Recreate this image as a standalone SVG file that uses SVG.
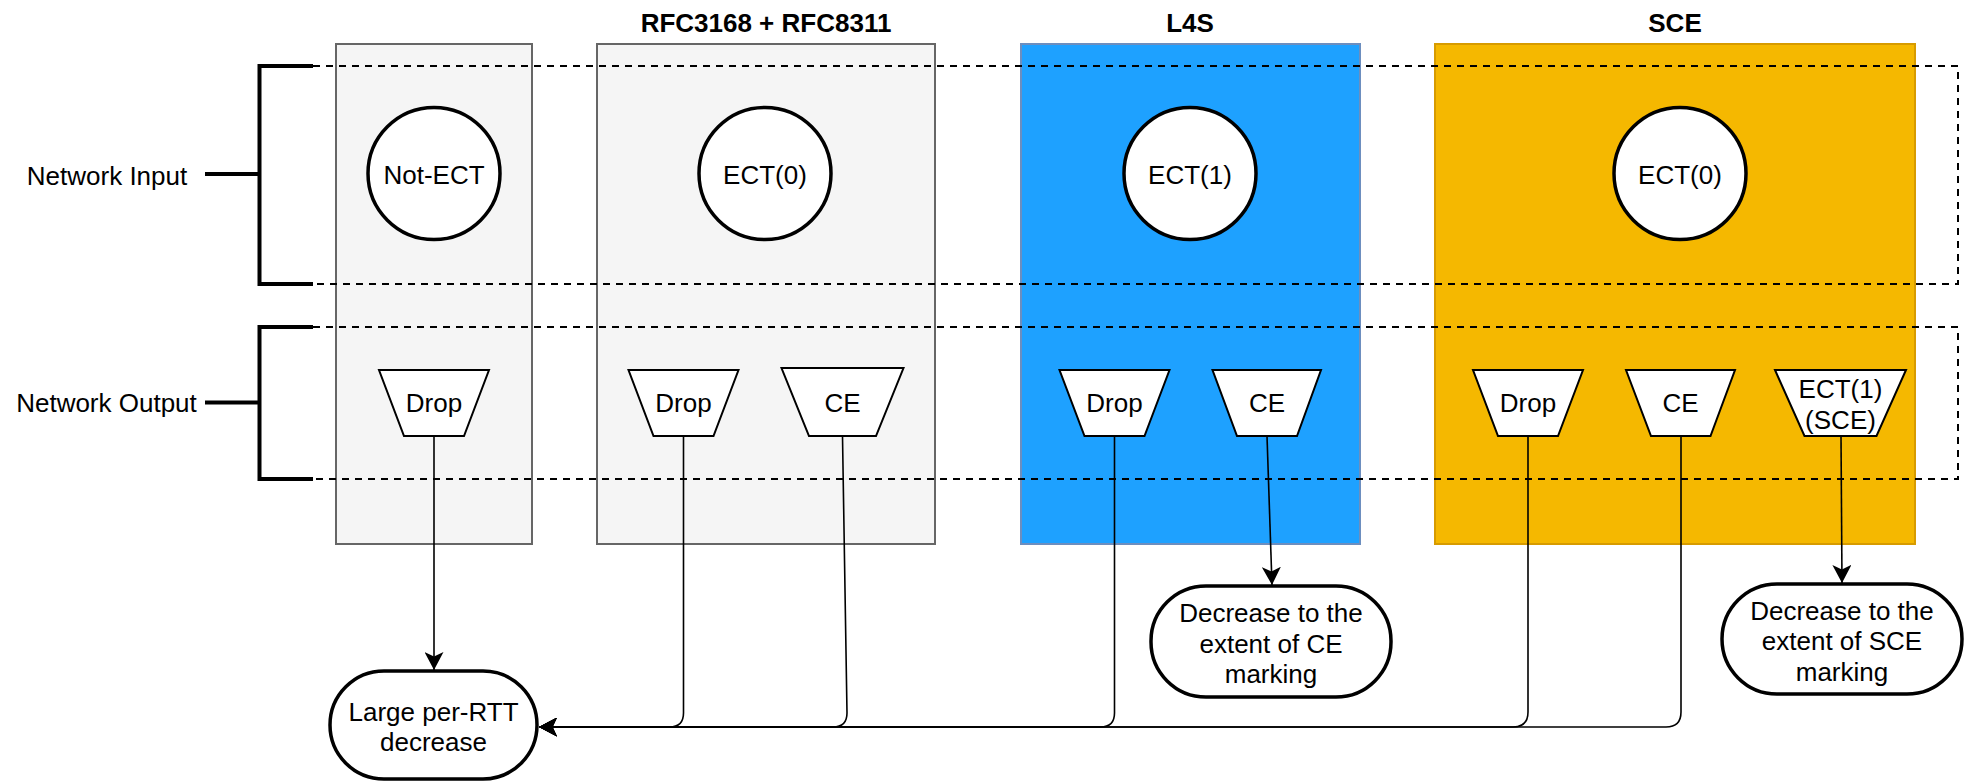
<svg xmlns="http://www.w3.org/2000/svg" width="1973" height="782" viewBox="0 0 1973 782">
<defs>
<style>
text{font-family:"Liberation Sans",Arial,Helvetica,sans-serif;font-size:26px;fill:#000;text-anchor:middle}
.title{font-weight:bold}
.col-gray{fill:#f5f5f5;stroke:#666666;stroke-width:2}
.col-blue{fill:#1ea1ff;stroke:#6c8ebf;stroke-width:2}
.col-orange{fill:#f5b800;stroke:#d79b00;stroke-width:2}
.circ{fill:#fff;stroke:#000;stroke-width:3.5}
.trap{fill:#fff;stroke:#000;stroke-width:2}
.term{fill:#fff;stroke:#000;stroke-width:3.5}
.dash{fill:none;stroke:#000;stroke-width:2;stroke-dasharray:7 6}
.brk{fill:none;stroke:#000;stroke-width:4}
.conn{fill:none;stroke:#000;stroke-width:1.6;marker-end:url(#arr)}
</style>
<marker id="arr" viewBox="0 0 18 19" refX="18" refY="9.5" markerWidth="18" markerHeight="19" markerUnits="userSpaceOnUse" orient="auto">
<path d="M0,0 L18,9.5 L0,19 L4.5,9.5 Z" fill="#000"/>
</marker>
</defs>

<g id="columns">
<rect id="col-notect" class="col-gray" x="336" y="44" width="196" height="500"/>
<rect id="col-rfc" class="col-gray" x="597" y="44" width="338" height="500"/>
<rect id="col-l4s" class="col-blue" x="1021" y="44" width="339" height="500"/>
<rect id="col-sce" class="col-orange" x="1435" y="44" width="480" height="500"/>
</g>

<g id="titles">
<text class="title" x="766" y="32">RFC3168 + RFC8311</text>
<text class="title" x="1190" y="32">L4S</text>
<text class="title" x="1675" y="32">SCE</text>
</g>

<g id="groups">
<path class="dash" d="M313,66 H1958 V284 H313"/>
<path class="dash" d="M313,327 H1958 V479 H313"/>
<path class="brk" d="M313,66 H259.5 V284 H313 M205,174 H259.5"/>
<path class="brk" d="M313,327 H259.5 V479 H313 M205,402.5 H259.5"/>
<text x="107" y="185">Network Input</text>
<text x="106.5" y="412">Network Output</text>
</g>

<g id="inputs">
<g id="in-notect"><circle class="circ" cx="434" cy="173.5" r="66"/><text x="434" y="184">Not-ECT</text></g>
<g id="in-rfc"><circle class="circ" cx="765" cy="173.5" r="66"/><text x="765" y="184">ECT(0)</text></g>
<g id="in-l4s"><circle class="circ" cx="1190" cy="173.5" r="66"/><text x="1190" y="184">ECT(1)</text></g>
<g id="in-sce"><circle class="circ" cx="1680" cy="173.5" r="66"/><text x="1680" y="184">ECT(0)</text></g>
</g>

<g id="outputs">
<g id="out-notect-drop"><path class="trap" d="M379,370 H489 L464,436 H404 Z"/><text x="434" y="412">Drop</text></g>
<g id="out-rfc-drop"><path class="trap" d="M628.5,370 H738.5 L713.5,436 H653.5 Z"/><text x="683.5" y="412">Drop</text></g>
<g id="out-rfc-ce"><path class="trap" d="M781.5,368 H903.5 L876,436 H809 Z"/><text x="842.5" y="412">CE</text></g>
<g id="out-l4s-drop"><path class="trap" d="M1059.5,370 H1169.5 L1144.5,436 H1084.5 Z"/><text x="1114.5" y="412">Drop</text></g>
<g id="out-l4s-ce"><path class="trap" d="M1212.5,370 H1321 L1297,436 H1237 Z"/><text x="1267" y="412">CE</text></g>
<g id="out-sce-drop"><path class="trap" d="M1473,370 H1583 L1558,436 H1498 Z"/><text x="1528" y="412">Drop</text></g>
<g id="out-sce-ce"><path class="trap" d="M1626,370 H1735 L1710.5,436 H1651 Z"/><text x="1680.5" y="412">CE</text></g>
<g id="out-sce-ect1"><path class="trap" d="M1775,370 H1906 L1876.5,436 H1804.5 Z"/><text x="1840.5" y="397.5">ECT(1)</text><text x="1840.5" y="428.5">(SCE)</text></g>
</g>

<g id="results">
<g id="res-large"><rect class="term" x="330" y="671" width="207" height="108" rx="54" ry="54"/><text x="433.5" y="721">Large per-RTT</text><text x="433.5" y="751">decrease</text></g>
<g id="res-ce"><rect class="term" x="1151" y="586" width="240" height="111" rx="55" ry="55"/><text x="1271" y="622">Decrease to the</text><text x="1271" y="652.5">extent of CE</text><text x="1271" y="683">marking</text></g>
<g id="res-sce"><rect class="term" x="1722" y="584" width="240" height="110" rx="55" ry="55"/><text x="1842" y="619.5">Decrease to the</text><text x="1842" y="650">extent of SCE</text><text x="1842" y="681">marking</text></g>
</g>

<g id="connectors">
<path class="conn" d="M434,436 V670"/>
<path class="conn" d="M683.5,436 V713 Q683.5,727 669.5,727 H539"/>
<path class="conn" d="M842.5,436 L847,713 Q847,727 833,727 H539"/>
<path class="conn" d="M1114.5,436 V713 Q1114.5,727 1100.5,727 H539"/>
<path class="conn" d="M1267,436 L1272,585"/>
<path class="conn" d="M1528,436 V712 Q1528,727 1513,727 H539"/>
<path class="conn" d="M1681,436 V712 Q1681,727 1666,727 H539"/>
<path class="conn" d="M1841,436 L1842,583"/>
</g>
</svg>
